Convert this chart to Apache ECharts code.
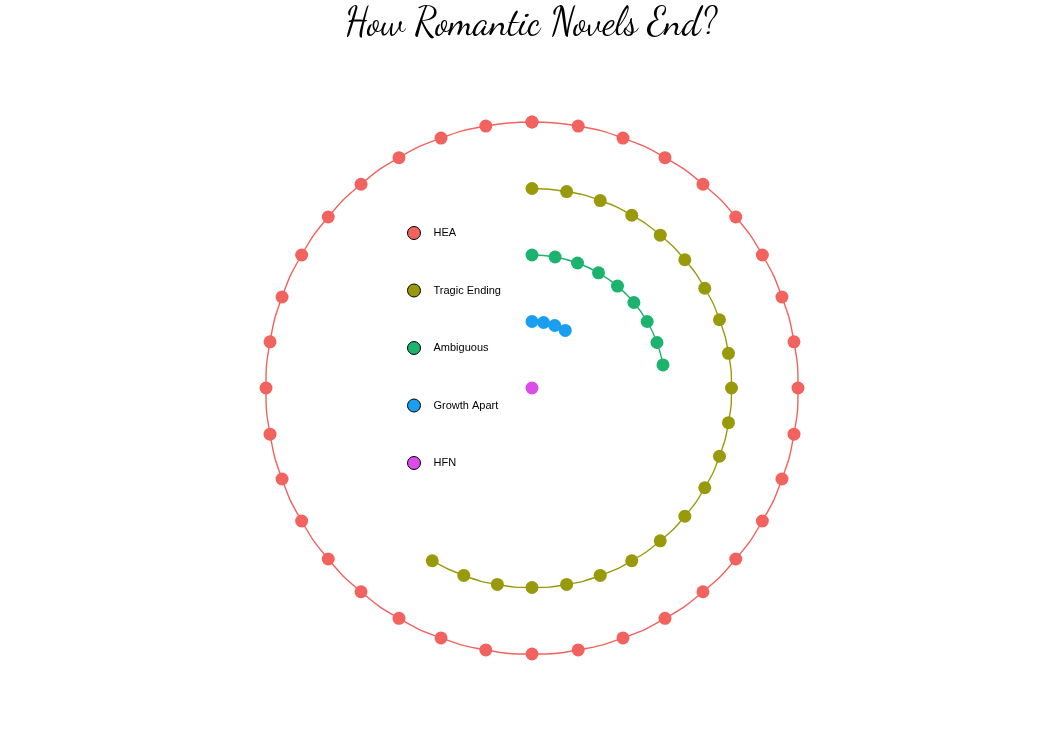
<!DOCTYPE html>
<html>
<head>
<meta charset="utf-8">
<script src="https://cdn.jsdelivr.net/npm/echarts@6/dist/echarts.min.js"></script>
<style>
  html, body { margin: 0; padding: 0; background: #fff; }
  #chart { width: 1062px; height: 733px; }
</style>
</head>
<body>
<div id="chart"></div>
<script>
// endings, outermost ring first
var categories = ['HEA', 'Tragic Ending', 'Ambiguous', 'Growth Apart', 'HFN'];
// number of novels (one dot each)
var counts = [36, 22, 9, 4, 1];
// ring of each category (0 = centre)
var rings = [4, 3, 2, 1, 0];
var colors = ['#F2625F', '#999A0B', '#1BB36E', '#1A9FF0', '#DC4CEB'];
var degPerDot = 10;

var chartDom = document.getElementById('chart');
var myChart = echarts.init(chartDom);

var series = categories.map(function (name, i) {
    var pts = [];
    for (var k = 0; k < counts[i]; k++) {
        pts.push([rings[i], k * degPerDot]);
    }
    // full ring closes back to the first dot
    if (counts[i] * degPerDot >= 360) {
        pts.push([rings[i], 360]);
    }
    return {
        name: name,
        type: 'line',
        coordinateSystem: 'polar',
        data: pts,
        symbol: 'circle',
        symbolSize: 13,
        showSymbol: true,
        showAllSymbol: true,
        smooth: 0.5,
        clip: false,
        animation: false,
        lineStyle: { color: colors[i], width: 1.4 },
        itemStyle: { color: colors[i], borderWidth: 0 },
        emphasis: { disabled: true }
    };
});

var option = {
    backgroundColor: '#fff',
    title: {
        text: 'How Romantic Novels End?',
        left: 'center',
        top: 0,
        textStyle: {
            fontFamily: "'Dancing Script', 'Pacifico', cursive, 'DejaVu Serif'",
            fontWeight: 'normal',
            fontSize: 38,
            color: '#000'
        }
    },
    legend: {
        orient: 'vertical',
        left: 402,
        top: 221,
        itemGap: 43.5,
        itemWidth: 13,
        itemHeight: 13,
        icon: 'circle',
        data: categories.map(function (name, i) {
            return {
                name: name,
                itemStyle: { color: colors[i], borderColor: '#000', borderWidth: 1 }
            };
        }),
        textStyle: {
            color: '#000',
            fontFamily: 'Liberation Sans, Arial, sans-serif',
            fontSize: 11,
            padding: [0, 0, 0, 8]
        },
        selectedMode: false
    },
    polar: {
        center: [532, 388],
        radius: 299.25
    },
    angleAxis: {
        type: 'value',
        min: 0,
        max: 360,
        startAngle: 90,
        clockwise: true,
        axisLine: { show: false },
        axisTick: { show: false },
        axisLabel: { show: false },
        splitLine: { show: false }
    },
    radiusAxis: {
        type: 'value',
        min: 0,
        max: 4.5,
        axisLine: { show: false },
        axisTick: { show: false },
        axisLabel: { show: false },
        splitLine: { show: false }
    },
    series: series
};

option && myChart.setOption(option);
</script>
</body>
</html>
